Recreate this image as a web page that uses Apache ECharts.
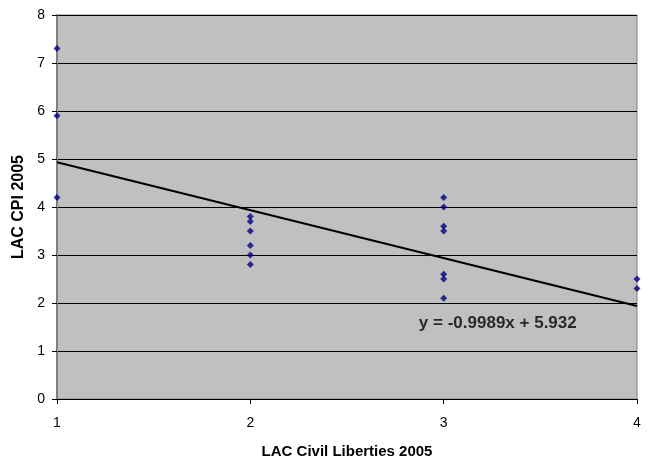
<!DOCTYPE html>
<html><head><meta charset="utf-8">
<script src="https://cdn.jsdelivr.net/npm/echarts@6/dist/echarts.min.js"></script>
<style>html,body{margin:0;padding:0;background:#fff}#c{width:651px;height:464px}</style>
</head><body><div id="c"></div>
<script>
const civilLiberties = [1,1,1, 2,2,2,2,2,2, 3,3,3,3,3,3,3, 4,4];
const cpi = [7.3,5.9,4.2, 3.8,3.7,3.5,3.2,3.0,2.8, 4.2,4.0,3.6,3.5,2.6,2.5,2.1, 2.5,2.3];
const trendSlope = -0.9989;
const trendIntercept = 5.932;
const trendX = [1, 4];
const trendLabel = 'y = -0.9989x + 5.932';
const trendLabelAt = [3.28, 1.58];
const xTicks = [1,2,3,4];
const yTicks = [0,1,2,3,4,5,6,7,8];

const pts = civilLiberties.map((x,i)=>[x,cpi[i]]);
const trend = trendX.map(x=>[x, trendSlope*x + trendIntercept]);
const FONT = '"Liberation Sans", Arial, sans-serif';

const chart = echarts.init(document.getElementById('c'));
chart.setOption({
  animation:false,
  backgroundColor:'#ffffff',
  grid:{left:57,right:14,top:15,bottom:64,show:true,backgroundColor:'#c0c0c0',borderColor:'#808080',borderWidth:1},
  xAxis:{type:'value',min:xTicks[0],max:xTicks[xTicks.length-1],interval:1,
    name:'LAC Civil Liberties 2005',nameLocation:'middle',nameGap:45,
    nameTextStyle:{fontFamily:FONT,fontWeight:'bold',fontSize:15,color:'#000'},
    axisLine:{show:true,lineStyle:{color:'#000',width:1}},
    axisTick:{show:true,length:5,lineStyle:{color:'#000'}},
    axisLabel:{fontFamily:FONT,fontSize:14,color:'#000',margin:17},
    splitLine:{show:false}},
  yAxis:{type:'value',min:yTicks[0],max:yTicks[yTicks.length-1],interval:1,
    name:'LAC CPI 2005',nameLocation:'middle',nameGap:30,
    nameTextStyle:{fontFamily:FONT,fontWeight:'bold',fontSize:16,color:'#000'},
    axisLine:{show:true,lineStyle:{color:'#808080',width:2}},
    axisTick:{show:true,length:5,lineStyle:{color:'#000'}},
    axisLabel:{fontFamily:FONT,fontSize:14,color:'#000',margin:12},
    splitLine:{show:true,lineStyle:{color:'#000',width:1}}},
  series:[
    {type:'scatter',data:pts,symbol:'diamond',symbolSize:7,itemStyle:{color:'#000080'},z:3},
    {type:'line',data:trend,symbol:'none',lineStyle:{color:'#000',width:2},z:2},
    {type:'scatter',data:[trendLabelAt],symbolSize:0,silent:true,
      label:{show:true,position:'inside',formatter:trendLabel,fontFamily:FONT,fontWeight:'bold',fontSize:17,color:'#000'}}
  ]
});
</script></body></html>
